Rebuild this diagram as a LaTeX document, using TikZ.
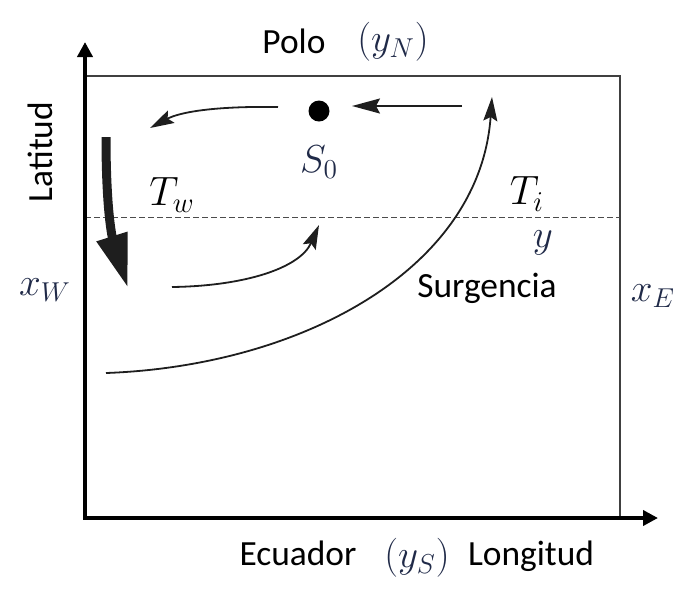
\RequirePackage{fix-cm}
\documentclass[tikz,border=0pt]{standalone}
\usepackage{fontspec}
\setmainfont{Carlito}
\usetikzlibrary{positioning, arrows.meta}
\definecolor{eqblue}{RGB}{32,42,72}
\definecolor{flowgray}{RGB}{30,30,30}

\begin{document}
\begin{tikzpicture}[
		x=0.5pt, y=-0.5pt,
		>=Stealth,
		txt/.style={font=\fontsize{17.7}{20}\selectfont, inner sep=0pt},
		eq/.style={text=eqblue, font=\fontsize{19.5}{22}\selectfont, inner sep=0pt},
		temp/.style={font=\fontsize{20.5}{24}\selectfont, inner sep=0pt},
		axis/.style={line width=2pt, {Triangle[length=7.5pt,width=7.5pt]}-{Triangle[length=7.5pt,width=7.5pt]}},
		basin/.style={line width=0.75pt, draw=black!75},
		flow/.style={line width=0.9pt, draw=flowgray, -{Stealth[length=12pt,width=7pt,inset=2pt]}},
		]
		\useasboundingbox (0,0) rectangle (692,591);
		
		% --- BASIN AND AXES ---
		\coordinate (ytip) at (85,42);
		\coordinate (origin) at (85,518);
		\coordinate (xtip) at (658,518);
		\coordinate (nw) at (85,76);
		\coordinate (ne) at (620,76);
		\coordinate (se) at (620,518);
		\coordinate (yw) at (85,217);
		\coordinate (ye) at (620,217);
		\draw[basin] (nw) -- (ne) -- (se);
		\draw[line width=0.5pt, draw=black!70, dash pattern=on 3pt off 1.5pt] (yw) -- (ye);
		\draw[axis] (ytip) -- (origin) -- (xtip);
		
		% --- LABELS ---
		\node[txt, anchor=base] (polo) at (294,53) {Polo};
		\node[eq] (yN) at (393,42) {$(y_N)$};
		\node[txt, rotate=90] (lat) at (40,152) {Latitud};
		\node[txt, anchor=base] (ecua) at (298,565) {Ecuador};
		\node[eq] (yS) at (417,558) {$(y_S)$};
		\node[txt, anchor=base] (lon) at (531,565) {Longitud};
		\node[eq] (xW) at (45,290) {$x_W$};
		\node[eq] (xE) at (653,296) {$x_E$};
		\node[temp] (Tw) at (172,195) {$T_w$};
		\node[temp] (Ti) at (527,194) {$T_i$};
		\node[eq] (ylat) at (543,243) {$y$};
		\node[txt, anchor=base] (surg) at (487,297) {Surgencia};
		
		% --- CIRCULATION ---
		\node[circle, fill=black, minimum size=10.5pt, inner sep=0pt] (s0dot) at (319,111) {};
		\node[eq, below=12pt of s0dot] (S0) {$S_0$};
		
		% upper branch
		\coordinate (a1s) at (278,107);
		\coordinate (a1e) at (150,128);
		\draw[flow] (a1s) .. controls (215,106) and (180,112) .. (a1e);
		\coordinate (a2s) at (462,106);
		\coordinate (a2e) at (352,106);
		\draw[flow, -{Stealth[length=14pt,width=7.5pt,inset=2pt]}] (a2s) -- (a2e);
		
		% western boundary current
		\coordinate (wbs) at (106,137);
		\coordinate (wbe) at (128,288);
		\draw[line width=4.5pt, draw=flowgray, -{Triangle[length=27pt,width=15pt]}] (wbs) .. controls (106,215) and (113,240) .. (wbe);
		
		% lower branches
		\coordinate (a3s) at (172,287);
		\coordinate (a3e) at (319,225);
		\draw[flow] (a3s) .. controls (245,286) and (300,268) .. (a3e);
		\coordinate (a4s) at (106,373);
		\coordinate (a4e) at (492,97);
		\draw[flow] (a4s) .. controls (300,366) and (480,270) .. (a4e);
		
	\end{tikzpicture}
\end{document}
